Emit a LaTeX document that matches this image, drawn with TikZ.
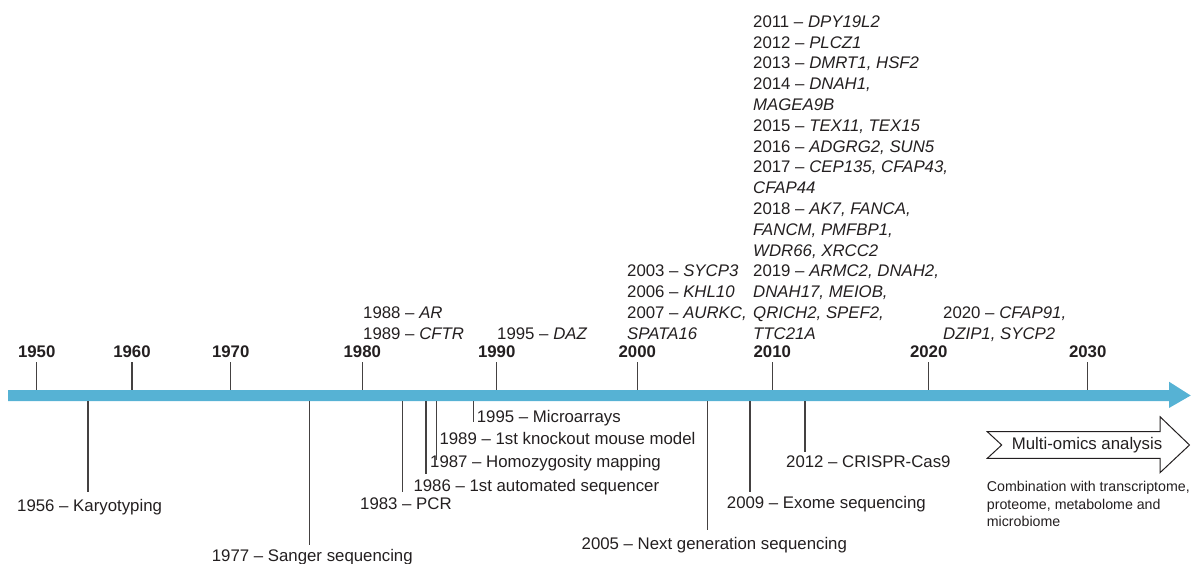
\documentclass[tikz,border=0pt]{standalone}
\usepackage{fontspec}
\setmainfont{Liberation Sans}
\definecolor{barblue}{RGB}{86,178,212}
\definecolor{txt}{RGB}{35,31,32}
\begin{document}
\begin{tikzpicture}[x=1pt,y=-1pt,
  lbl/.style={font=\fontsize{16.8}{20.8}\selectfont, text=txt, inner sep=0pt, anchor=base west, align=left},
  yr/.style={font=\fontsize{16.8}{20.8}\selectfont\bfseries, text=txt, inner sep=0pt, anchor=base},
  small/.style={font=\fontsize{14.2}{17.5}\selectfont, text=txt, inner sep=0pt, anchor=base west, align=left},
  tickline/.style={draw=txt!85, line width=1.2pt},
  stem/.style={draw=txt!85, line width=1.2pt},
  omics/.style={draw=txt, line width=1pt, fill=white, line join=miter}]
\useasboundingbox (0,0) rectangle (1191,564);
% main axis arrow
\fill[barblue] (8,390) -- (1169,390) -- (1169,381.7) -- (1190.7,395.5) -- (1169,408) -- (1169,401) -- (8,401) -- cycle;
% decade ticks and labels
\foreach \x/\yy in {36.7/1950,132/1960,230.7/1970,362.3/1980,496.7/1990,637.3/2000,772.3/2010,928.7/2020,1087.7/2030}{
  \node[yr] (y\yy) at (\x,357.7) {\yy};
  \coordinate (ta\yy) at (\x,362);
  \coordinate (tb\yy) at (\x,390);
  \draw[tickline] (ta\yy) -- (tb\yy);
}
% gene discoveries (above); anchor = baseline of last line
\node[lbl] (g1988) at (363,339.3) {1988 – \textit{AR}\\1989 – \textit{CFTR}};
\node[lbl] (g1995) at (497,339.3) {1995 – \textit{DAZ}};
\node[lbl] (g2003) at (627,339.3) {2003 – \textit{SYCP3}\\2006 – \textit{KHL10}\\2007 – \textit{AURKC,}\\\textit{SPATA16}};
\node[lbl] (g2011) at (753,339.3) {2011 – \textit{DPY19L2}\\2012 – \textit{PLCZ1}\\2013 – \textit{DMRT1, HSF2}\\2014 – \textit{DNAH1,}\\\textit{MAGEA9B}\\2015 – \textit{TEX11, TEX15}\\2016 – \textit{ADGRG2, SUN5}\\2017 – \textit{CEP135, CFAP43,}\\\textit{CFAP44}\\2018 – \textit{AK7, FANCA,}\\\textit{FANCM, PMFBP1,}\\\textit{WDR66, XRCC2}\\2019 – \textit{ARMC2, DNAH2,}\\\textit{DNAH17, MEIOB,}\\\textit{QRICH2, SPEF2,}\\\textit{TTC21A}};
\node[lbl] (g2020) at (943,339.3) {2020 – \textit{CFAP91,}\\\textit{DZIP1, SYCP2}};
% technologies (below)
\node[lbl] (k1956) at (17,511.7) {1956 – Karyotyping};
\coordinate (s1956a) at (88,401); \coordinate (s1956b) at (88,492);
\draw[stem] (s1956a) -- (s1956b);
\node[lbl] (k1977) at (211.7,561) {1977 – Sanger sequencing};
\coordinate (s1977a) at (309.3,401); \coordinate (s1977b) at (309.3,545);
\draw[stem] (s1977a) -- (s1977b);
\node[lbl] (k1983) at (360,509.3) {1983 – PCR};
\coordinate (s1983a) at (402.7,401); \coordinate (s1983b) at (402.7,491.7);
\draw[stem] (s1983a) -- (s1983b);
\node[lbl] (k1986) at (413.3,491) {1986 – 1st automated sequencer};
\coordinate (s1986a) at (426,401); \coordinate (s1986b) at (426,474);
\draw[stem] (s1986a) -- (s1986b);
\node[lbl] (k1987) at (430,467.7) {1987 – Homozygosity mapping};
\coordinate (s1987a) at (436.7,401); \coordinate (s1987b) at (436.7,460);
\draw[stem] (s1987a) -- (s1987b);
\node[lbl] (k1989) at (439.3,444.3) {1989 – 1st knockout mouse model};
\node[lbl] (k1995) at (476.7,422.7) {1995 – Microarrays};
\coordinate (s1995a) at (473.3,401); \coordinate (s1995b) at (473.3,422);
\draw[stem] (s1995a) -- (s1995b);
\node[lbl] (k2005) at (581.5,549.3) {2005 – Next generation sequencing};
\coordinate (s2005a) at (707.3,401); \coordinate (s2005b) at (707.3,530);
\draw[stem] (s2005a) -- (s2005b);
\node[lbl] (k2009) at (726.7,508.7) {2009 – Exome sequencing};
\coordinate (s2009a) at (750,401); \coordinate (s2009b) at (750,491.7);
\draw[stem] (s2009a) -- (s2009b);
\node[lbl] (k2012) at (786,467.7) {2012 – CRISPR-Cas9};
\coordinate (s2012a) at (805,401); \coordinate (s2012b) at (805,451.7);
\draw[stem] (s2012a) -- (s2012b);
% multi-omics arrow
\draw[omics] (987.3,431.7) -- (1160,431.7) -- (1160,416.7) -- (1189.5,445) -- (1160,472.7) -- (1160,458.3) -- (987.3,458.3) -- (1001.7,445) -- cycle;
\node[lbl] (omics) at (1011.7,449.3) {Multi-omics analysis};
\node[small] (comb) at (986.7,526.7) {Combination with transcriptome,\\proteome, metabolome and\\microbiome};
\end{tikzpicture}
\end{document}
